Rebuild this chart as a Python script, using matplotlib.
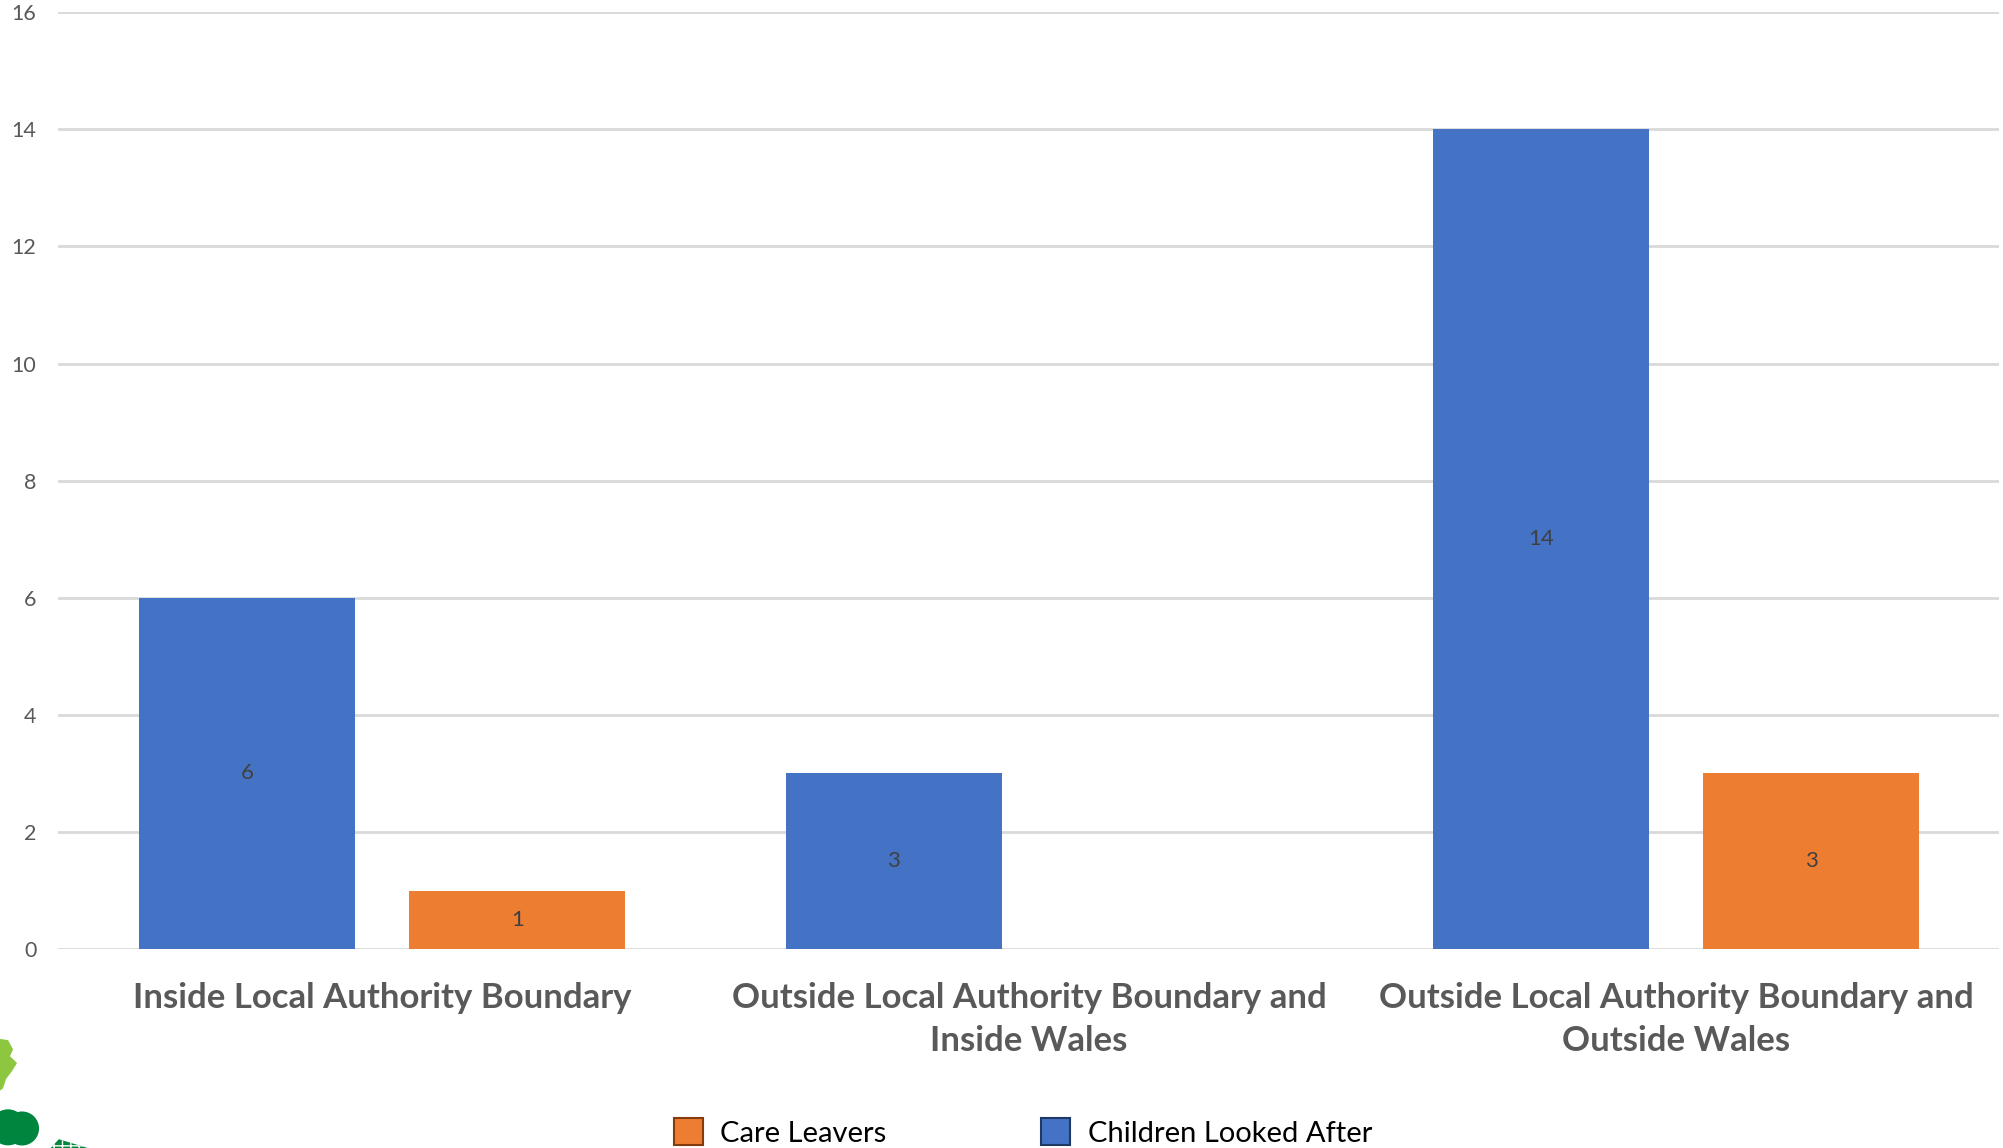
import matplotlib.pyplot as plt
import matplotlib.patches as mpatches
import numpy as np

# Placement counts by location
CATEGORIES = [
    "Inside Local Authority Boundary",
    "Outside Local Authority Boundary and\nInside Wales",
    "Outside Local Authority Boundary and\nOutside Wales",
]
CHILDREN_LOOKED_AFTER = [6, 3, 14]
CARE_LEAVERS = [1, 0, 3]
Y_TICKS = [0, 2, 4, 6, 8, 10, 12, 14, 16]

BLUE = "#4472C4"
ORANGE = "#ED7D31"
TEXT_GREY = "#595959"

plt.rcParams['font.family'] = ['Lato', 'DejaVu Sans']

fig = plt.figure(figsize=(20.03, 11.48), dpi=100)
ax = fig.add_axes([0.0292, 0.1733, 0.9690, 0.8160])

x = np.arange(len(CATEGORIES))
width = 0.334
offset = 0.209

bars_cla = ax.bar(x - offset, CHILDREN_LOOKED_AFTER, width, color=BLUE, zorder=3)
bars_cl = ax.bar(x + offset, CARE_LEAVERS, width, color=ORANGE, zorder=3)

# value labels in the middle of each non-empty bar
for bars in (bars_cla, bars_cl):
    for b in bars:
        h = b.get_height()
        if h > 0:
            ax.text(b.get_x() + b.get_width() / 2, h / 2, f"{h:g}",
                    ha="center", va="center", fontsize=16, color="#404040", zorder=4)

ax.set_xlim(-0.5, 2.5)
ax.set_ylim(0, 16)
ax.set_yticks(Y_TICKS)
ax.set_yticklabels([str(t) for t in Y_TICKS], fontsize=15.5, color=TEXT_GREY)
ax.set_xticks(x)
ax.set_xticklabels(CATEGORIES, fontsize=25, fontweight="bold", color=TEXT_GREY,
                   linespacing=1.4)
ax.tick_params(axis="both", length=0)
ax.tick_params(axis="y", pad=16)
ax.tick_params(axis="x", pad=24)

ax.grid(axis="y", color="#d9d9d9", linewidth=2, zorder=0)
for s in ax.spines.values():
    s.set_visible(False)

handles = [
    mpatches.Patch(facecolor=ORANGE, edgecolor="#843C0C", linewidth=1.5, label="Care Leavers"),
    mpatches.Patch(facecolor=BLUE, edgecolor="#1F3864", linewidth=1.5, label="Children Looked After"),
]
fig.legend(handles=handles, loc="center", bbox_to_anchor=(0.5107, 0.0135), ncol=2,
           frameon=False, fontsize=21, handlelength=1.0, handleheight=1.0,
           handletextpad=0.6, columnspacing=5.3, labelcolor="black")

# corner logo fragment
fig.patches.append(mpatches.Polygon(
    [(0, 0.095), (0.004, 0.094), (0.0065, 0.086), (0.005, 0.08), (0.0085, 0.074),
     (0.006, 0.067), (0.003, 0.06), (0.0015, 0.052), (0, 0.05)],
    closed=True, transform=fig.transFigure, facecolor="#8DC63F", edgecolor="none"))
for cx, cy, r in [(0.004, 0.018, 0.009), (0.011, 0.017, 0.0085)]:
    fig.patches.append(mpatches.Ellipse((cx, cy), 2 * r, 2 * r * 2003 / 1148,
                                        transform=fig.transFigure,
                                        facecolor="#00853F", edgecolor="none"))
fig.patches.append(mpatches.Rectangle((0.02, -0.01), 0.03, 0.02, angle=-28,
                                      transform=fig.transFigure, facecolor="#00853F",
                                      edgecolor="white", hatch="++", linewidth=0))

fig.savefig("out.png", dpi=100)
